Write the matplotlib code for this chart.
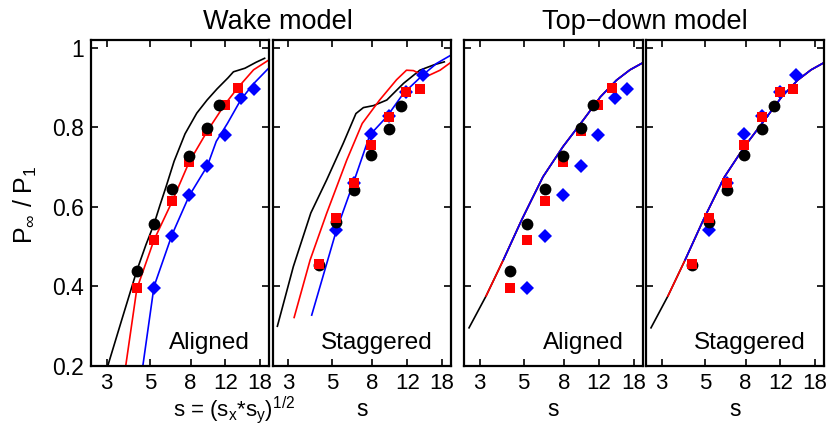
import matplotlib
matplotlib.use("Agg")
import matplotlib.pyplot as plt
from matplotlib.ticker import NullLocator, FixedLocator

plt.rcParams['font.family'] = ['Liberation Sans', 'DejaVu Sans']
plt.rcParams['mathtext.fontset'] = 'custom'
plt.rcParams['mathtext.rm'] = 'Liberation Sans'
plt.rcParams['mathtext.it'] = 'Liberation Sans'

# Measured power ratios (markers) - aligned layout
blk_al_s = [4.27, 5.22, 6.44, 7.87, 9.73, 11.2]
blk_al_p = [0.44, 0.557, 0.645, 0.729, 0.799, 0.857]
red_al_s = [4.27, 5.22, 6.44, 7.87, 9.73, 11.9, 13.9]
red_al_p = [0.396, 0.518, 0.614, 0.714, 0.792, 0.857, 0.900]
blu_al_s = [5.22, 6.44, 7.87, 9.73, 11.9, 14.5, 16.7]
blu_al_p = [0.396, 0.526, 0.629, 0.704, 0.782, 0.873, 0.897]

# staggered layout
blk_st_s = [4.27, 5.22, 6.44, 7.87, 9.73, 11.2]
blk_st_p = [0.455, 0.562, 0.643, 0.731, 0.796, 0.855]
red_st_s = [4.27, 5.22, 6.44, 7.87, 9.73, 11.9, 13.9]
red_st_p = [0.457, 0.572, 0.660, 0.757, 0.826, 0.890, 0.897]
blu_st_s = [5.22, 6.44, 7.87, 9.73, 11.9, 14.5]
blu_st_p = [0.542, 0.660, 0.783, 0.828, 0.888, 0.932]

# Wake model curves, aligned
wk_al_blk_s = [3.04, 3.6, 4.27, 4.75, 5.22, 5.6, 6.0, 6.6, 7.5, 8.6, 9.7, 10.9, 12.4, 13.2, 15.1, 17.2, 19.0]
wk_al_blk_p = [0.2, 0.32, 0.44, 0.505, 0.557, 0.605, 0.65, 0.715, 0.784, 0.836, 0.869, 0.897, 0.925, 0.94, 0.949, 0.964, 0.974]
wk_al_red_s = [3.75, 4.27, 5.22, 6.44, 7.87, 9.73, 11.9, 13.9, 16.7, 20.0]
wk_al_red_p = [0.2, 0.394, 0.517, 0.613, 0.713, 0.791, 0.857, 0.90, 0.945, 0.97]
wk_al_blu_s = [4.58, 5.22, 6.44, 7.87, 9.73, 10.8, 12.3, 14.4, 16.7, 20.0]
wk_al_blu_p = [0.2, 0.40, 0.53, 0.628, 0.703, 0.765, 0.81, 0.87, 0.91, 0.95]

# Wake model curves, staggered
wk_st_blk_s = [2.64, 3.18, 3.9, 4.69, 5.69, 6.6, 7.2, 8.1, 9.46, 11.5, 13.9, 16.5, 18.5]
wk_st_blk_p = [0.30, 0.45, 0.585, 0.668, 0.76, 0.835, 0.85, 0.855, 0.869, 0.911, 0.944, 0.958, 0.965]
wk_st_red_s = [3.21, 3.87, 4.69, 5.93, 7.1, 8.7, 10.6, 11.9, 12.9, 15.0, 17.6, 20.0]
wk_st_red_p = [0.322, 0.467, 0.584, 0.718, 0.81, 0.869, 0.92, 0.944, 0.943, 0.928, 0.944, 0.964]
wk_st_blu_s = [3.94, 5.26, 6.4, 7.76, 9.46, 11.5, 14.4, 16.9, 20.0]
wk_st_blu_p = [0.328, 0.542, 0.66, 0.781, 0.827, 0.886, 0.932, 0.961, 0.982]

# Top-down model curve (same for both layouts; each row starts later)
td_s = [2.65, 3.23, 3.95, 4.88, 5.48, 6.26, 7.9, 10.0, 12.2, 14.7, 17.2, 20.0]
td_p = [0.296, 0.376, 0.467, 0.567, 0.618, 0.676, 0.752, 0.819, 0.877, 0.919, 0.945, 0.963]
td_blk_start, td_red_start, td_blu_start = 0, 1, 2

xticks = [3, 5, 8, 12, 18]
yticks = [0.2, 0.4, 0.6, 0.8, 1.0]
ytick_labels = ['0.2', '0.4', '0.6', '0.8', '1']

fs = 16.5
fig = plt.figure(figsize=(8.3, 4.25), dpi=100)
W, H = 830.0, 425.0
bottom, top = 366, 40
lefts = [91, 272.7, 464, 646]
rights = [269, 451, 643, 824]
axs = []
for l, r in zip(lefts, rights):
    ax = fig.add_axes([l / W, 1 - bottom / H, (r - l) / W, (bottom - top) / H])
    axs.append(ax)


def mark(ax, s, p, color, marker, ms, z):
    ax.plot(s, p, linestyle='none', marker=marker, color=color, ms=ms,
            markeredgewidth=0, zorder=z)


def markers(ax, layout):
    if layout == 'al':
        mark(ax, blu_al_s, blu_al_p, 'b', 'D', 7.5, 3)
        mark(ax, red_al_s, red_al_p, 'r', 's', 7, 4)
        mark(ax, blk_al_s, blk_al_p, 'k', 'o', 8.5, 5)
    else:
        mark(ax, blu_st_s, blu_st_p, 'b', 'D', 7.5, 3)
        mark(ax, blk_st_s, blk_st_p, 'k', 'o', 8.5, 4)
        mark(ax, red_st_s, red_st_p, 'r', 's', 7, 5)


# panel 1: wake, aligned
ax = axs[0]
ax.plot(wk_al_blk_s, wk_al_blk_p, color='k', lw=1.2)
ax.plot(wk_al_red_s, wk_al_red_p, color='r', lw=1.2)
ax.plot(wk_al_blu_s, wk_al_blu_p, color='b', lw=1.2)
markers(ax, 'al')

# panel 2: wake, staggered
ax = axs[1]
ax.plot(wk_st_blk_s, wk_st_blk_p, color='k', lw=1.2)
ax.plot(wk_st_red_s, wk_st_red_p, color='r', lw=1.2)
ax.plot(wk_st_blu_s, wk_st_blu_p, color='b', lw=1.2)
markers(ax, 'st')

# panels 3 and 4: top-down model
for ax, layout in ((axs[2], 'al'), (axs[3], 'st')):
    ax.plot(td_s[td_blk_start:], td_p[td_blk_start:], color='k', lw=1.2)
    ax.plot(td_s[td_red_start:], td_p[td_red_start:], color='r', lw=1.2)
    ax.plot(td_s[td_blu_start:], td_p[td_blu_start:], color='b', lw=1.2)
    markers(ax, layout)

for i, ax in enumerate(axs):
    ax.set_xscale('log')
    ax.set_xlim(2.5, 20)
    ax.set_ylim(0.2, 1.02)
    ax.xaxis.set_major_locator(FixedLocator(xticks))
    ax.xaxis.set_minor_locator(NullLocator())
    ax.set_xticklabels([str(t) for t in xticks])
    ax.set_yticks(yticks)
    ax.set_yticklabels(ytick_labels)
    ax.tick_params(direction='in', top=True, right=True, length=5, width=1.2,
                   labelsize=fs, labelleft=(i == 0))
    ax.tick_params(axis='x', pad=5, labelsize=16)
    ax.tick_params(axis='y', pad=5)
    for sp in ax.spines.values():
        sp.set_linewidth(1.6)
    ax.text(0.895, 0.052, 'Aligned' if i % 2 == 0 else 'Staggered',
            transform=ax.transAxes, ha='right', va='baseline', fontsize=17.5)
    if i > 0:
        fig.text((lefts[i] + rights[i]) / 2 / W, 1 - 409 / H, 's',
                 ha='center', va='center', fontsize=16.5)

fig.text(173 / W, 1 - 410 / H, r's = (s$_\mathrm{x}$*s$_\mathrm{y}$)$^{1/2}$',
         ha='left', va='center', fontsize=16)
fig.text(25 / W, 1 - 205 / H, r'P$_\infty$ / P$_1$', rotation=90,
         ha='center', va='center', fontsize=18)
fig.text(278 / W, 1 - 29 / H, 'Wake model', ha='center', va='baseline', fontsize=19.5)
fig.text(645 / W, 1 - 29 / H, 'Top\u2212down model', ha='center', va='baseline', fontsize=19.5)

fig.savefig('out.png', dpi=100)
